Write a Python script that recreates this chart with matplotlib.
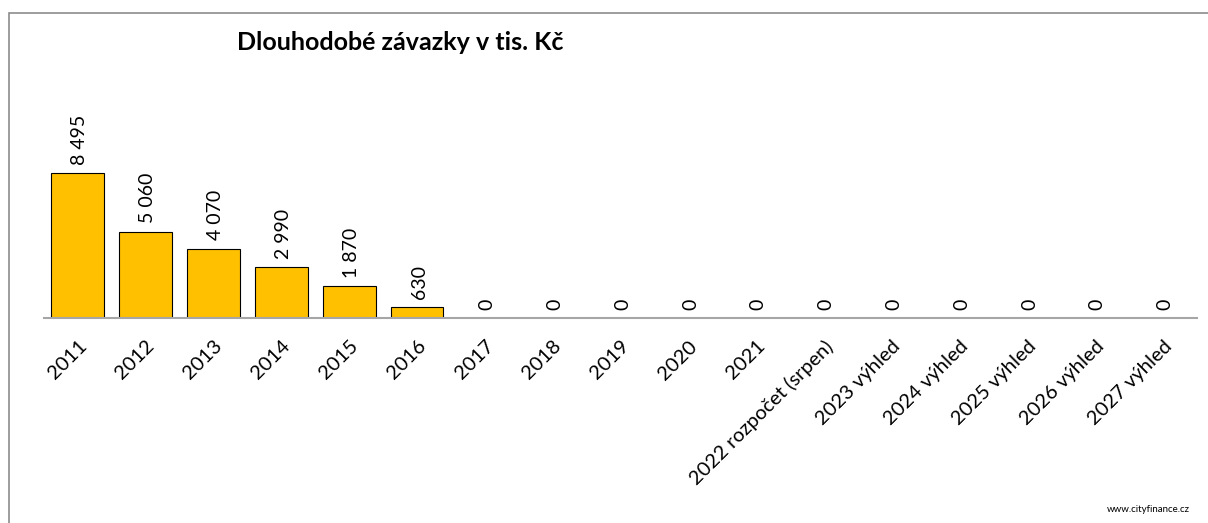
import matplotlib
matplotlib.use('Agg')
from matplotlib import pyplot as plt
from matplotlib.patches import Rectangle

plt.rcParams['font.family'] = ['Lato', 'DejaVu Sans']

# long-term liabilities, thousands CZK
years = ['2011', '2012', '2013', '2014', '2015', '2016', '2017', '2018', '2019',
         '2020', '2021', '2022 rozpočet (srpen)', '2023 výhled', '2024 výhled',
         '2025 výhled', '2026 výhled', '2027 výhled']
values = [8495, 5060, 4070, 2990, 1870, 630, 0, 0, 0, 0, 0, 0, 0, 0, 0, 0, 0]

W, H = 1208, 523
fig = plt.figure(figsize=(W / 100, H / 100), dpi=100)

# outer chart frame
frame = Rectangle((9 / W, -0.1), 1.2, 1 - 13 / H + 0.1, transform=fig.transFigure,
                  fill=False, edgecolor='#8c8c8c', linewidth=1.2)
fig.patches.append(frame)

ymax = 16000
px_per_unit = 145 / 8495
ax_h = ymax * px_per_unit
ax = fig.add_axes([44 / W, 1 - 318 / H, (1197 - 44) / W, ax_h / H])

x = list(range(len(years)))
ax.bar(x, values, width=0.78, color='#FFC000', edgecolor='black', linewidth=0.8, zorder=2)
ax.set_xlim(-0.5, len(years) - 0.5)
ax.set_ylim(0, ymax)

for xi, v in zip(x, values):
    label = f'{v:,}'.replace(',', ' ')
    ax.annotate(label, (xi, v), xytext=(1.5, 6), textcoords='offset points',
                rotation=90, ha='center', va='bottom', fontsize=14)

for s in ['top', 'right', 'left']:
    ax.spines[s].set_visible(False)
ax.spines['bottom'].set_color('#a6a6a6')
ax.spines['bottom'].set_linewidth(1.5)
ax.set_yticks([])
ax.set_xticks(x)
ax.set_xticklabels(years, rotation=45, ha='right', rotation_mode='anchor', fontsize=14.5)
ax.tick_params(axis='x', length=0, pad=14)

fig.text(400 / W, 1 - 42 / H, 'Dlouhodobé závazky v tis. Kč', ha='center', va='center',
         fontsize=18, fontweight='bold')
fig.text(1190 / W, 1 - 509 / H, 'www.cityfinance.cz', ha='right', va='center', fontsize=7)

fig.savefig('out.png', dpi=100)
